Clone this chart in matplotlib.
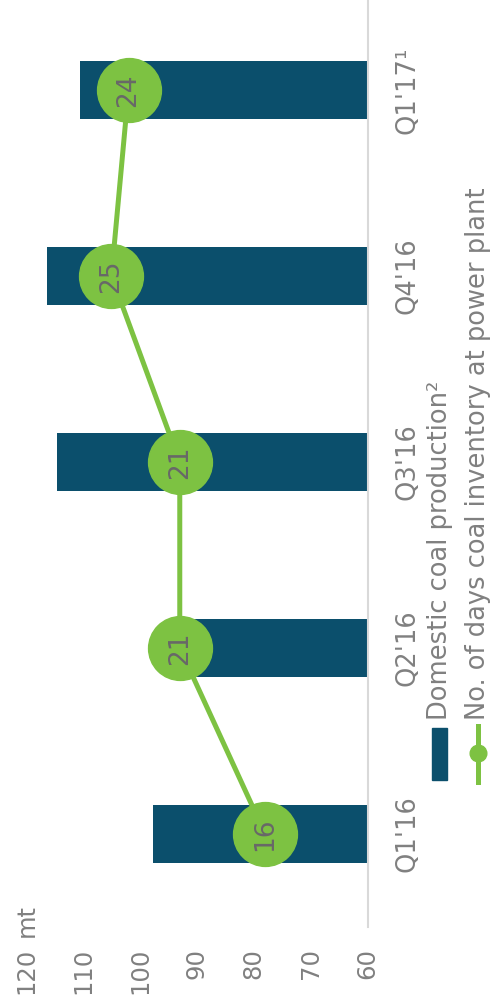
import matplotlib.pyplot as plt
from matplotlib.patches import Rectangle
from matplotlib.lines import Line2D

# quarterly data
quarters = ["Q1'16", "Q2'16", "Q3'16", "Q4'16", "Q1'17\u00b9"]
production_mt = [97.7, 93.0, 114.6, 116.3, 110.6]
inventory_days = [16, 21, 21, 25, 24]
value_ticks = [60, 70, 80, 90, 100, 110, 120]

bar_color = '#0b4f6c'
line_color = '#7dc242'
text_gray = '#808080'

plt.rcParams['font.family'] = ['DejaVu Sans']

fig = plt.figure(figsize=(4.9, 9.98), dpi=100)
ax = fig.add_axes([26 / 490, 71 / 998, 341.7 / 490, 930 / 998])

pos = list(range(len(quarters)))
ax.barh(pos, production_mt, height=0.31, color=bar_color, zorder=2)
ax.set_xlim(120, 60)
ax.set_ylim(-0.5, len(quarters) - 0.5)

ax.set_xticks(value_ticks)
ax.set_xticklabels([str(v) for v in value_ticks], rotation=90, va='top',
                   ha='center', color=text_gray, fontsize=17.5)
ax.tick_params(axis='x', length=0, pad=15)

ax.yaxis.tick_right()
ax.set_yticks(pos)
ax.set_yticklabels(quarters, rotation=90, va='center', ha='left',
                   color=text_gray, fontsize=18.5)
ax.tick_params(axis='y', length=0, pad=19)

for side in ['top', 'bottom', 'left']:
    ax.spines[side].set_visible(False)
ax.spines['right'].set_color('#d9d9d9')
ax.spines['right'].set_linewidth(1.5)

# days of coal stock on a hidden secondary scale
ax2 = ax.twiny()
ax2.set_xlim(30, 10)
ax2.plot(inventory_days, pos, color=line_color, lw=3.6, zorder=3)
ax2.plot(inventory_days, pos, 'o', color=line_color, ms=46, zorder=4)
for d, p in zip(inventory_days, pos):
    ax2.text(d, p, str(d), rotation=90, ha='center', va='center',
             color='#686868', fontsize=19, zorder=5)
ax2.set_xticks([])
for side in ax2.spines:
    ax2.spines[side].set_visible(False)

fig.text(27 / 490, (998 - 937) / 998, 'mt', rotation=90, ha='center',
         va='bottom', color=text_gray, fontsize=17.5)

# legend
fig.add_artist(Rectangle((432 / 490, (998 - 780) / 998), 15 / 490, 52 / 998,
                         transform=fig.transFigure, color=bar_color))
fig.add_artist(Line2D([478 / 490, 478 / 490], [(998 - 782) / 998, (998 - 726) / 998],
                      transform=fig.transFigure, color=line_color, lw=3.6))
fig.add_artist(Line2D([478 / 490], [(998 - 753) / 998], marker='o', ms=12,
                      transform=fig.transFigure, color=line_color))
fig.text(440 / 490, (998 - 720) / 998, 'Domestic coal production\u00b2', rotation=90,
         ha='center', va='bottom', color=text_gray, fontsize=18.5)
fig.text(478 / 490, (998 - 720) / 998, 'No. of days coal inventory at power plant',
         rotation=90, ha='center', va='bottom', color=text_gray, fontsize=18.5)

fig.savefig('out.png', dpi=100)
